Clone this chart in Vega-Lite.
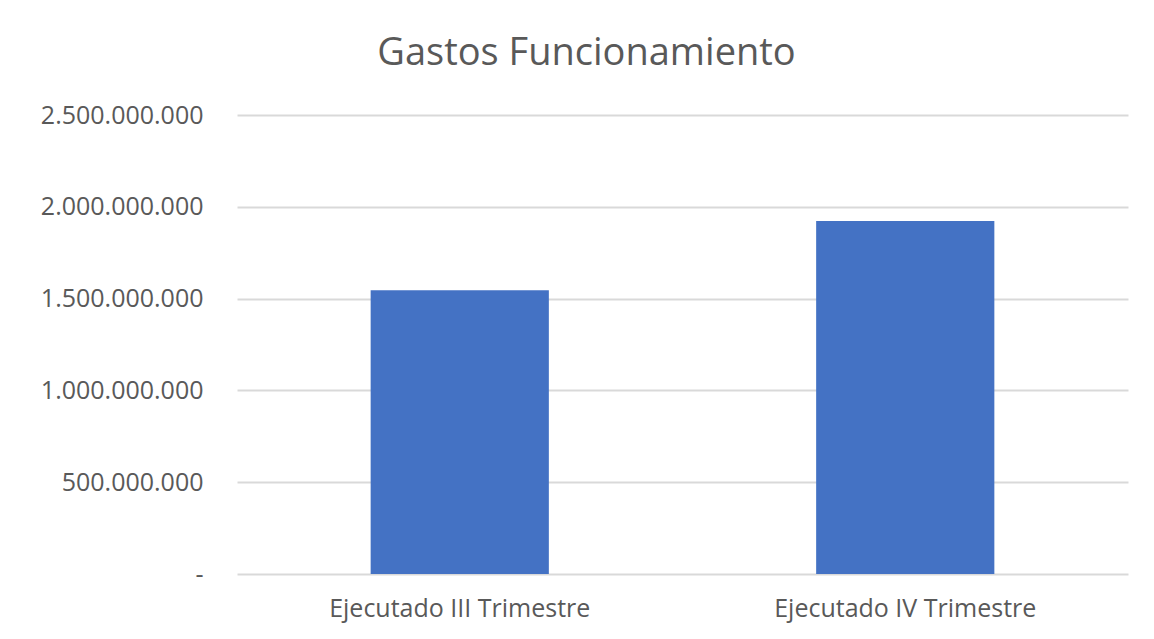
{
  "$schema": "https://vega.github.io/schema/vega-lite/v6.json",
  "width": 891,
  "height": 459,
  "autosize": "none",
  "padding": {"left": 237, "top": 115, "right": 26, "bottom": 65},
  "background": "white",
  "config": {
    "locale": {"number": {"decimal": ",", "thousands": ".", "grouping": [3], "currency": ["$", ""]}},
    "view": {"stroke": null},
    "font": "Open Sans"
  },
  "title": {
    "text": "Gastos Funcionamiento",
    "fontSize": 38,
    "fontWeight": "normal",
    "color": "#595959",
    "font": "Open Sans",
    "anchor": "middle",
    "dx": -96,
    "baseline": "alphabetic",
    "offset": 0
  },
  "data": {
    "values": [
      {"periodo": "Ejecutado III Trimestre", "valor": 1546000000},
      {"periodo": "Ejecutado IV Trimestre", "valor": 1922000000}
    ]
  },
  "mark": {"type": "bar", "color": "#4472C4", "width": {"band": 0.4}},
  "encoding": {
    "x": {
      "field": "periodo",
      "type": "nominal",
      "sort": null,
      "scale": {"paddingInner": 0, "paddingOuter": 0},
      "axis": {
        "title": null,
        "labelAngle": 0,
        "labelFontSize": 25,
        "labelColor": "#595959",
        "labelFont": "Open Sans",
        "labelBaseline": "alphabetic",
        "labelPadding": 42,
        "labelLimit": 500,
        "domain": false,
        "ticks": false
      }
    },
    "y": {
      "field": "valor",
      "type": "quantitative",
      "scale": {"domain": [0, 2500000000]},
      "axis": {
        "title": null,
        "values": [0, 500000000, 1000000000, 1500000000, 2000000000, 2500000000],
        "format": ",.0f",
        "labelExpr": "datum.value == 0 ? '-\u00a0\u00a0\u00a0\u00a0\u00a0' : datum.label",
        "labelFontSize": 25,
        "labelColor": "#595959",
        "labelFont": "Open Sans",
        "labelPadding": 34,
        "labelLimit": 500,
        "domain": false,
        "ticks": false,
        "grid": true,
        "gridColor": "#d9d9d9",
        "gridWidth": 2
      }
    }
  }
}
